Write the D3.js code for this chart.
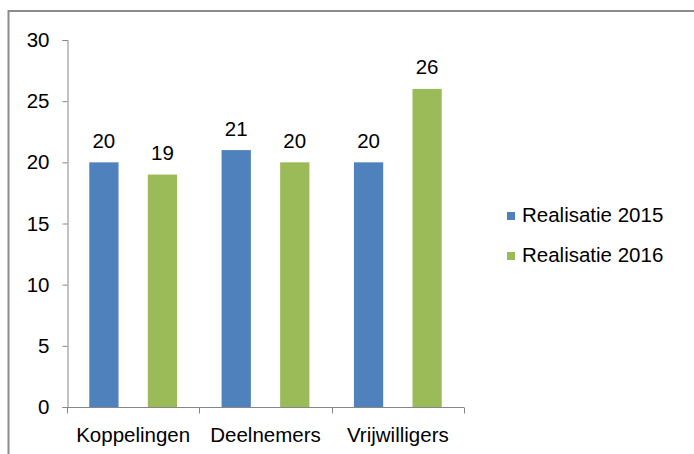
<!DOCTYPE html>
<html>
<head>
	<meta charset="utf-8">
	<title>realisatie</title>
	<style>
	body { margin: 0; background: #fff; }
	text { font-family: "Liberation Sans", Arial, sans-serif; fill: #000; }
	.axis text { font-size: 20.5px; }
	.axis path, .axis line { stroke: #868686; stroke-width: 1; }
	.valtext { font-size: 20.5px; text-anchor: middle; }
	.legtext { font-size: 20.5px; dominant-baseline: middle; }
	</style>
	<script src="https://d3js.org/d3.v7.min.js"></script>
</head>
<body>
	<script type="text/javascript">
		var categories = ['Koppelingen', 'Deelnemers', 'Vrijwilligers'];
		var series = ['Realisatie 2015', 'Realisatie 2016'];
		var values2015 = [20, 21, 20];
		var values2016 = [19, 20, 26];
		var yTicks = [0, 5, 10, 15, 20, 25, 30];
		var colors = ['#4F81BD', '#9BBB59'];

		var width = 694, height = 454;
		var svg = d3.select('body').append('svg')
			.attr('width', width)
			.attr('height', height);

		// kader (afgesneden)
		svg.append('path')
			.attr('d', 'M8.5,' + height + 'V11H' + width)
			.attr('fill', 'none')
			.attr('stroke', '#8c8c8c')
			.attr('stroke-width', 2);

		var x0 = d3.scaleBand().domain(categories).range([67, 464]);
		var x1 = d3.scaleBand().domain(series).range([0, x0.bandwidth()])
			.paddingInner(0.5).paddingOuter(0.38);
		var y = d3.scaleLinear().domain([0, 30]).range([407, 40]);

		// y-as
		svg.append('g')
			.attr('class', 'axis')
			.attr('transform', 'translate(67.5,0)')
			.call(d3.axisLeft(y).tickValues(yTicks).tickSizeOuter(0).tickSize(5).tickPadding(13));

		// x-as met scheidingsstreepjes
		var xAxis = svg.append('g')
			.attr('class', 'axis')
			.attr('transform', 'translate(0,407.5)');
		xAxis.append('path').attr('d', 'M67,0H464');
		xAxis.selectAll('line')
			.data(categories.concat(['end']))
			.enter().append('line')
			.attr('x1', function (d, i) { return Math.round(x0.range()[0] + i * x0.step()) + 0.5; })
			.attr('x2', function (d, i) { return Math.round(x0.range()[0] + i * x0.step()) + 0.5; })
			.attr('y1', 0).attr('y2', 6);
		xAxis.selectAll('text')
			.data(categories)
			.enter().append('text')
			.attr('x', function (d) { return x0(d) + x0.bandwidth() / 2; })
			.attr('y', 34.5)
			.attr('text-anchor', 'middle')
			.text(function (d) { return d; });

		var rows = categories.map(function (c, i) {
			return { cat: c, vals: [values2015[i], values2016[i]] };
		});

		var groups = svg.selectAll('g.grp')
			.data(rows)
			.enter().append('g')
			.attr('class', 'grp')
			.attr('transform', function (d) { return 'translate(' + x0(d.cat) + ',0)'; });

		groups.selectAll('rect')
			.data(function (d) { return d.vals.map(function (v, j) { return { s: series[j], v: v, j: j }; }); })
			.enter().append('rect')
			.attr('x', function (d) { return x1(d.s); })
			.attr('width', x1.bandwidth())
			.attr('y', function (d) { return y(d.v); })
			.attr('height', function (d) { return y(0) - y(d.v); })
			.attr('fill', function (d) { return colors[d.j]; });

		groups.selectAll('text.valtext')
			.data(function (d) { return d.vals.map(function (v, j) { return { s: series[j], v: v }; }); })
			.enter().append('text')
			.attr('class', 'valtext')
			.attr('x', function (d) { return x1(d.s) + x1.bandwidth() / 2; })
			.attr('y', function (d) { return y(d.v) - 14.5; })
			.text(function (d) { return d.v; });

		// legenda
		var leg = svg.selectAll('g.leg')
			.data(series)
			.enter().append('g')
			.attr('class', 'leg')
			.attr('transform', function (d, i) { return 'translate(507,' + (216 + i * 40) + ')'; });
		leg.append('rect')
			.attr('x', 0).attr('y', -4)
			.attr('width', 8).attr('height', 8)
			.attr('fill', function (d, i) { return colors[i]; });
		leg.append('text')
			.attr('class', 'legtext')
			.attr('x', 15).attr('y', 1)
			.text(function (d) { return d; });
	</script>
</body>
</html>
